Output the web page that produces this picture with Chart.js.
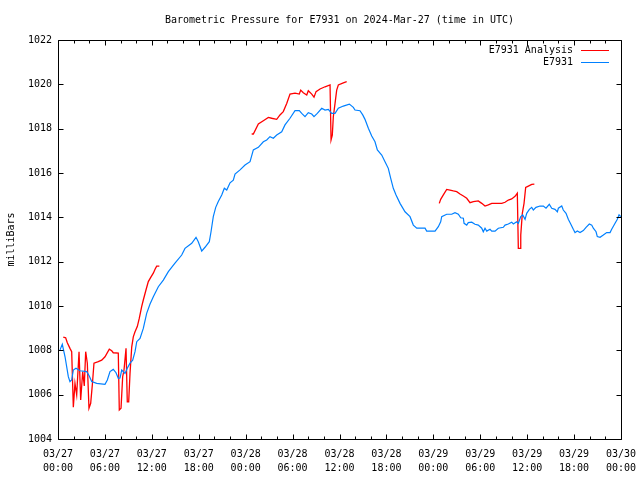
<!DOCTYPE html>
<html>
<head>
<meta charset="utf-8">
<title>Barometric Pressure E7931</title>
<script src="https://cdn.jsdelivr.net/npm/chart.js@4.4.1/dist/chart.umd.min.js"></script>
<style>
  html, body { margin: 0; padding: 0; background: #fff; }
  #wrap { width: 640px; height: 480px; }
</style>
</head>
<body>
<div id="wrap"><canvas id="pressureChart" width="640" height="480"></canvas></div>
<script>
// hours since 2024-03-27 00:00 UTC
const xTickLabels = [
  ["03/27", "00:00"], ["03/27", "06:00"], ["03/27", "12:00"], ["03/27", "18:00"],
  ["03/28", "00:00"], ["03/28", "06:00"], ["03/28", "12:00"], ["03/28", "18:00"],
  ["03/29", "00:00"], ["03/29", "06:00"], ["03/29", "12:00"], ["03/29", "18:00"],
  ["03/30", "00:00"]
];

// E7931 Analysis (null = no data)
const analysisHours = [
  0.68, 0.98, 1.19, 1.53, 1.75, 1.96, 2.17, 2.39, 2.69, 2.90, 3.16, 3.36, 3.54, 3.75, 3.96,
  4.18, 4.39, 4.60, 5.15, 5.59, 6.01, 6.56, 6.87, 7.07, 7.71, 7.84, 8.06, 8.27, 8.44, 8.70,
  8.86, 9.04, 9.21, 9.43, 9.63, 9.85, 10.14, 10.40, 10.70, 10.91, 11.25, 11.55, 11.86, 12.19,
  12.41, 12.62, 12.96,
  18.0,
  24.77, 24.98, 25.62, 26.26, 26.90, 27.33, 27.97, 28.39, 28.81, 29.25, 29.67, 30.31, 30.86,
  31.04, 31.37, 31.81, 32.01, 32.45, 32.74, 33.00, 33.51, 34.15, 34.79, 34.92, 35.08, 35.21,
  35.43, 35.64, 35.85, 36.49, 36.92,
  42.0,
  48.76, 48.94, 49.28, 49.71, 50.13, 50.56, 50.99, 51.41, 51.84, 52.27, 52.69, 53.12, 53.75,
  54.19, 54.61, 55.03, 55.47, 56.75, 57.17, 57.59, 58.02, 58.45, 58.74, 58.87, 59.09, 59.18,
  59.38, 59.60, 59.81, 60.15, 60.58, 60.92
];
const analysisValues = [
  1008.59, 1008.57, 1008.34, 1008.09, 1007.94, 1005.43, 1006.51, 1005.99, 1007.94, 1005.76,
  1007.04, 1006.39, 1007.94, 1007.42, 1005.39, 1005.61, 1006.44, 1007.42, 1007.49, 1007.56,
  1007.71, 1008.05, 1007.98, 1007.89, 1007.87, 1005.31, 1005.39, 1006.81, 1007.11, 1008.09,
  1005.68, 1005.68, 1006.96, 1008.16, 1008.61, 1008.84, 1009.07, 1009.45, 1009.97, 1010.27,
  1010.72, 1011.10, 1011.29, 1011.48, 1011.66, 1011.80, 1011.80,
  null,
  1017.76, 1017.76, 1018.21, 1018.36, 1018.51, 1018.47, 1018.42, 1018.62, 1018.77, 1019.14,
  1019.56, 1019.60, 1019.56, 1019.74, 1019.62, 1019.52, 1019.71, 1019.56, 1019.42, 1019.67,
  1019.79, 1019.89, 1019.97, 1017.49, 1017.71, 1018.54, 1019.14, 1019.74, 1019.97, 1020.07,
  1020.12,
  null,
  1014.63, 1014.81, 1015.01, 1015.26, 1015.23, 1015.19, 1015.16, 1015.05, 1014.96, 1014.86,
  1014.66, 1014.71, 1014.74, 1014.63, 1014.51, 1014.56, 1014.63, 1014.63, 1014.68, 1014.78,
  1014.83, 1014.95, 1015.09, 1012.60, 1012.60, 1013.20, 1014.18, 1014.63, 1015.35, 1015.41,
  1015.49, 1015.50
];

// E7931 observed
const stationHours = [
  0.26, 0.55, 0.90, 1.32, 1.53, 1.75, 1.96, 2.30, 2.81, 3.67, 4.00, 4.31, 4.95, 6.01, 6.31,
  6.65, 7.07, 7.42, 7.71, 7.93, 8.15, 8.57, 8.86, 9.21, 9.55, 9.85, 10.07, 10.49, 10.91, 11.34,
  11.77, 12.19, 12.83, 13.47, 14.11, 14.96, 15.82, 16.24, 17.10, 17.65, 17.94, 18.38, 18.80,
  19.35, 19.57, 19.86, 20.17, 20.50, 20.94, 21.27, 21.58, 22.00, 22.42, 22.64, 23.28, 23.92,
  24.56, 24.98, 25.62, 26.26, 26.69, 27.11, 27.54, 27.97, 28.61, 29.03, 29.67, 30.31, 30.86,
  31.17, 31.59, 32.01, 32.45, 32.74, 33.16, 33.73, 34.15, 34.57, 35.00, 35.43, 35.85, 36.49,
  37.26, 37.77, 37.98, 38.62, 38.97, 39.26, 39.69, 40.12, 40.54, 40.84, 41.40, 41.82, 42.24,
  42.55, 42.88, 43.23, 43.74, 44.38, 45.02, 45.44, 45.88, 46.94, 47.15, 48.22, 48.64, 48.94,
  49.07, 49.71, 50.35, 50.77, 51.20, 51.50, 51.84, 51.93, 52.27, 52.47, 52.91, 53.33, 53.75,
  54.19, 54.39, 54.61, 54.83, 55.25, 55.47, 55.89, 56.31, 56.95, 57.17, 57.59, 58.02, 58.23,
  58.66, 58.87, 59.18, 59.43, 59.73, 59.94, 60.28, 60.58, 60.79, 61.13, 61.64, 62.07, 62.41,
  62.83, 63.14, 63.56, 63.86, 63.99, 64.42, 64.62, 64.97, 65.26, 65.57, 65.90, 66.12, 66.41,
  66.76, 67.18, 67.53, 67.95, 68.26, 68.46, 68.81, 68.97, 69.32, 69.74, 70.17, 70.60, 70.81,
  71.24, 71.53, 71.75, 71.97
];
const stationValues = [
  1008.02, 1008.27, 1007.71, 1006.81, 1006.59, 1006.66, 1007.11, 1007.19, 1007.08, 1007.04,
  1006.84, 1006.59, 1006.51, 1006.47, 1006.66, 1007.04, 1007.14, 1006.99, 1006.74, 1006.75,
  1007.11, 1006.96, 1007.19, 1007.42, 1007.56, 1007.94, 1008.39, 1008.54, 1008.99, 1009.67,
  1010.09, 1010.42, 1010.87, 1011.17, 1011.55, 1011.93, 1012.30, 1012.60, 1012.83, 1013.10,
  1012.90, 1012.48, 1012.65, 1012.90, 1013.35, 1014.03, 1014.45, 1014.71, 1015.01, 1015.31,
  1015.23, 1015.56, 1015.68, 1015.95, 1016.14, 1016.36, 1016.51, 1017.04, 1017.16, 1017.41,
  1017.49, 1017.64, 1017.57, 1017.71, 1017.86, 1018.17, 1018.47, 1018.81, 1018.81, 1018.69,
  1018.54, 1018.72, 1018.66, 1018.54, 1018.69, 1018.92, 1018.84, 1018.87, 1018.69, 1018.69,
  1018.92, 1019.02, 1019.11, 1018.96, 1018.84, 1018.81, 1018.62, 1018.42, 1018.02, 1017.67,
  1017.41, 1017.04, 1016.81, 1016.51, 1016.21, 1015.76, 1015.31, 1015.01, 1014.63, 1014.25,
  1014.03, 1013.65, 1013.51, 1013.51, 1013.38, 1013.38, 1013.58, 1013.80, 1014.03, 1014.14,
  1014.14, 1014.21, 1014.14, 1013.98, 1013.96, 1013.73, 1013.65, 1013.76, 1013.78, 1013.69,
  1013.65, 1013.51, 1013.35, 1013.51, 1013.38, 1013.46, 1013.38, 1013.38, 1013.51, 1013.55,
  1013.65, 1013.70, 1013.78, 1013.70, 1013.80, 1013.73, 1014.03, 1014.11, 1013.91, 1014.18,
  1014.36, 1014.45, 1014.33, 1014.45, 1014.51, 1014.51, 1014.41, 1014.59, 1014.41, 1014.36,
  1014.25, 1014.41, 1014.51, 1014.33, 1014.18, 1013.91, 1013.70, 1013.46, 1013.31, 1013.38,
  1013.31, 1013.40, 1013.55, 1013.70, 1013.65, 1013.51, 1013.35, 1013.13, 1013.10, 1013.20,
  1013.31, 1013.31, 1013.46, 1013.73, 1013.91, 1014.11, 1014.03
];

const FONT = "'DejaVu Sans Mono', 'Liberation Mono', monospace";

const toPoints = (hours, values) => hours.map((h, i) => ({ x: h, y: values[i] }));

// border box, inward ticks on all four sides, gnuplot-style key
const frameAndKey = {
  id: "frameAndKey",
  afterDraw(chart) {
    const { ctx, chartArea: a, scales } = chart;
    const xs = scales.x, ys = scales.y;
    ctx.save();
    ctx.strokeStyle = "#000";
    ctx.lineWidth = 1;
    ctx.beginPath();
    const L = Math.round(a.left) + 0.5, R = Math.round(a.right) + 0.5;
    const T = Math.round(a.top) + 0.5, B = Math.round(a.bottom) + 0.5;
    ctx.rect(L, T, R - L, B - T);
    for (let v = 1004; v <= 1022; v += 2) {
      const y = Math.round(ys.getPixelForValue(v)) + 0.5;
      ctx.moveTo(L, y); ctx.lineTo(L + 5, y);
      ctx.moveTo(R, y); ctx.lineTo(R - 5, y);
    }
    for (let h = 0; h <= 72; h += 2) {
      const x = Math.round(xs.getPixelForValue(h)) + 0.5;
      const len = h % 6 === 0 ? 5 : 3;
      ctx.moveTo(x, B); ctx.lineTo(x, B - len);
      ctx.moveTo(x, T); ctx.lineTo(x, T + len);
    }
    ctx.stroke();

    ctx.font = "10px " + FONT;
    ctx.textAlign = "right";
    ctx.textBaseline = "middle";
    chart.data.datasets.forEach((ds, i) => {
      const y = 50 + i * 12;
      ctx.fillStyle = "#000";
      ctx.fillText(ds.label, a.right - 48, y);
      ctx.strokeStyle = ds.borderColor;
      ctx.beginPath();
      ctx.moveTo(a.right - 40, y + 0.5);
      ctx.lineTo(a.right - 12, y + 0.5);
      ctx.stroke();
    });
    ctx.restore();
  }
};

new Chart(document.getElementById("pressureChart"), {
  type: "line",
  data: {
    datasets: [
      {
        label: "E7931 Analysis",
        data: toPoints(analysisHours, analysisValues),
        borderColor: "#ff0000",
        borderWidth: 1.3,
        pointRadius: 0,
        spanGaps: false,
        tension: 0,
        order: 2
      },
      {
        label: "E7931",
        data: toPoints(stationHours, stationValues),
        borderColor: "#0080ff",
        borderWidth: 1.2,
        pointRadius: 0,
        tension: 0,
        order: 1
      }
    ]
  },
  options: {
    responsive: false,
    animation: false,
    layout: { padding: { left: 0, right: 19, top: 0, bottom: 0 } },
    plugins: {
      legend: { display: false },
      tooltip: { enabled: false },
      title: {
        display: true,
        text: "Barometric Pressure for E7931 on 2024-Mar-27 (time in UTC)",
        color: "#000",
        fullSize: false,
        font: { family: FONT, size: 10, weight: "normal" },
        padding: { top: 14, bottom: 14 }
      }
    },
    scales: {
      x: {
        type: "linear",
        min: 0,
        max: 72,
        grid: { display: false, drawTicks: false },
        border: { display: false },
        ticks: {
          stepSize: 6,
          autoSkip: false,
          maxRotation: 0,
          padding: 8,
          color: "#000",
          font: { family: FONT, size: 10, lineHeight: 1.4 },
          callback: (v) => xTickLabels[Math.round(v / 6)]
        },
        afterFit: (s) => { s.height = 41; s.paddingLeft = 0; s.paddingRight = 0; }
      },
      y: {
        min: 1004,
        max: 1022,
        grid: { display: false, drawTicks: false },
        border: { display: false },
        ticks: {
          stepSize: 2,
          padding: 6,
          color: "#000",
          font: { family: FONT, size: 10 },
          callback: (v) => String(v)
        },
        title: {
          display: true,
          text: "milliBars",
          color: "#000",
          font: { family: FONT, size: 10 },
          padding: { top: 5.5, bottom: 0 }
        },
        afterFit: (s) => { s.width = 58; s.paddingTop = 0; s.paddingBottom = 0; }
      }
    }
  },
  plugins: [frameAndKey]
});
</script>
</body>
</html>
